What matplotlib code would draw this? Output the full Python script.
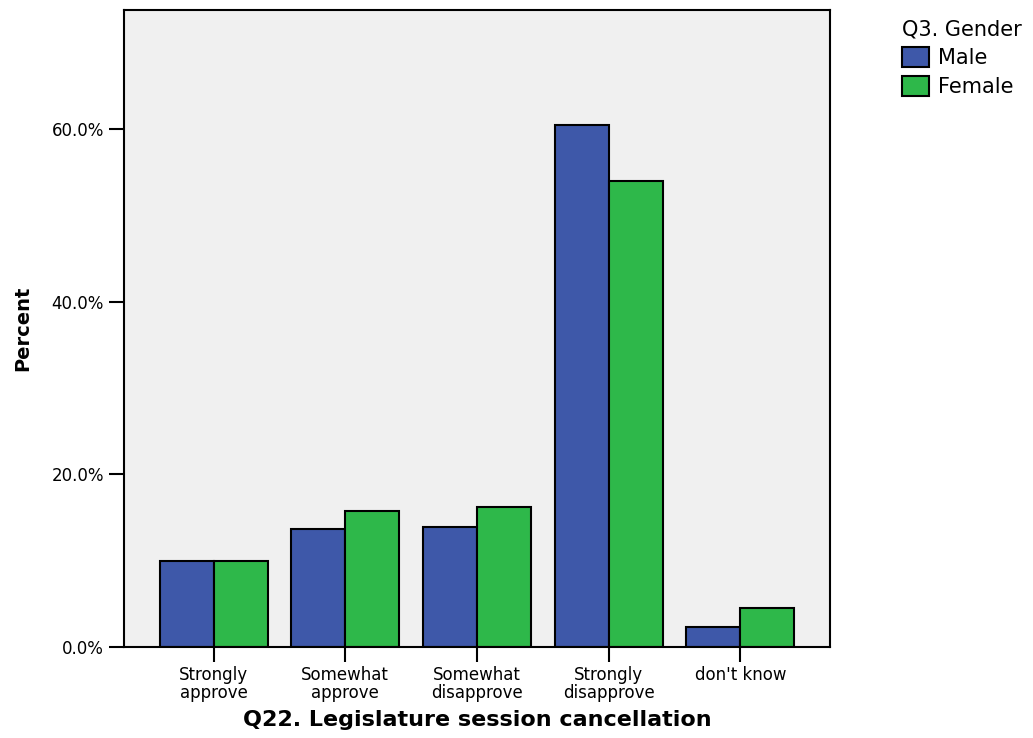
import numpy as np
import matplotlib.pyplot as plt

plt.rcParams['font.family'] = ['DejaVu Sans']

categories = ['Strongly\napprove', 'Somewhat\napprove', 'Somewhat\ndisapprove',
              'Strongly\ndisapprove', "don't know"]
male = [10.0, 13.7, 13.9, 60.5, 2.3]
female = [10.0, 15.8, 16.2, 54.0, 4.5]
yticks = [0, 20, 40, 60]

fig = plt.figure(figsize=(10.33, 7.38), dpi=100)
ax = fig.add_axes([0.12, 0.1233, 0.6835, 0.8631])
ax.set_facecolor('#f0f0f0')

x = np.arange(len(categories))
w = 0.41
ax.bar(x - w/2, male, w, color='#3e58a9', edgecolor='black', linewidth=1.5, label='Male')
ax.bar(x + w/2, female, w, color='#2eb84a', edgecolor='black', linewidth=1.5, label='Female')

ax.set_xlim(-0.68, len(categories) - 1 + 0.68)
ax.set_ylim(0, 73.8)
ax.set_yticks(yticks)
ax.set_yticklabels(['%.1f%%' % v for v in yticks], fontsize=12)
ax.set_xticks(x)
ax.set_xticklabels(categories, fontsize=12, linespacing=1.0)
ax.tick_params(axis='both', length=11, width=1.5, color='black')
ax.tick_params(axis='x', pad=2.5)
ax.tick_params(axis='y', pad=3.5)
for s in ax.spines.values():
    s.set_linewidth(1.5)

ax.set_ylabel('Percent', fontsize=14, fontweight='bold', labelpad=14)
ax.set_xlabel('Q22. Legislature session cancellation', fontsize=16, fontweight='bold', labelpad=6)

leg = fig.legend(loc='upper left', bbox_to_anchor=(0.859, 0.994), frameon=False,
                 title='Q3. Gender', fontsize=15, title_fontsize=15,
                 handlelength=1.3, handleheight=1.1, handletextpad=0.43,
                 labelspacing=0.38, borderpad=0.2)
leg._legend_box.align = 'left'
for p in leg.get_patches():
    p.set_linewidth(1.5)

fig.savefig('out.png', dpi=100)
